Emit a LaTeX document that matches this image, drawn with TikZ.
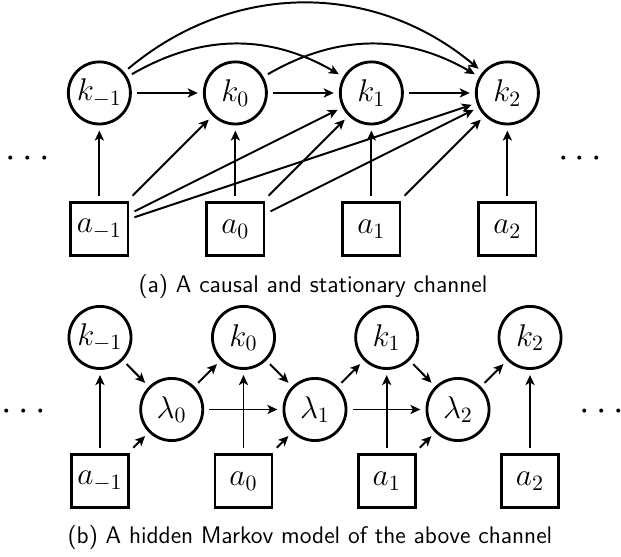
\documentclass[tikz,border=0pt]{standalone}
\usetikzlibrary{arrows.meta}
\begin{document}
\begin{tikzpicture}[
    >={Stealth[length=4.6pt,width=4.2pt,inset=1.2pt]},
    every node/.style={font=\Large},
    key/.style={circle,draw,line width=1.3pt,minimum size=1cm,inner sep=0pt,outer sep=3pt},
    act/.style={rectangle,draw,line width=1.3pt,minimum width=0.92cm,minimum height=0.86cm,inner sep=0pt,outer sep=3pt},
    dots/.style={font=\LARGE,inner sep=0pt},
    caption/.style={font=\sffamily\fontsize{11}{13.6}\selectfont,anchor=base}]
  \useasboundingbox (0,0) rectangle (10,8.969);
  % (a) causal and stationary channel
  \draw
    (1.60,7.472) node[key] (km1){$k_{-1}$}
    (3.79,7.472) node[key] (k0){$k_0$}
    (5.98,7.472) node[key] (k1){$k_1$}
    (8.17,7.472) node[key] (k2){$k_2$}
    (1.60,5.282) node[act] (am1){$a_{-1}$}
    (3.79,5.282) node[act] (a0){$a_0$}
    (5.98,5.282) node[act] (a1){$a_1$}
    (8.17,5.282) node[act] (a2){$a_2$}
    (0.446,6.40) node[dots] (ldots){$\cdots$}
    (9.34,6.40) node[dots] (rdots){$\cdots$}
    (5.04,4.251) node[caption] (capa){(a) A causal and stationary channel};
  \begin{scope}[->,line width=0.9pt]
    \draw (km1) to (k0);
    \draw (k0) to (k1);
    \draw (k1) to (k2);
    \draw (km1) to[bend left=30] (k1);
    \draw (km1) to[bend left=40] (k2);
    \draw (k0) to[bend left=30] (k2);
    \draw (am1) to (km1);
    \draw (am1) to (k0);
    \draw (am1) to (k1);
    \draw (am1) to (k2);
    \draw (a0) to (k0);
    \draw (a0) to (k1);
    \draw (a0) to (k2);
    \draw (a1) to (k1);
    \draw (a1) to (k2);
    \draw (a2) to (k2);
  \end{scope}
  % (b) hidden Markov model
  \draw
    (1.610,3.535) node[key] (hkm1){$k_{-1}$}
    (3.921,3.535) node[key] (hk0){$k_0$}
    (6.227,3.535) node[key] (hk1){$k_1$}
    (8.535,3.535) node[key] (hk2){$k_2$}
    (2.765,2.375) node[key] (l0){$\lambda_0$}
    (5.072,2.375) node[key] (l1){$\lambda_1$}
    (7.375,2.375) node[key] (l2){$\lambda_2$}
    (1.610,1.224) node[act] (ham1){$a_{-1}$}
    (3.921,1.224) node[act] (ha0){$a_0$}
    (6.227,1.224) node[act] (ha1){$a_1$}
    (8.535,1.224) node[act] (ha2){$a_2$}
    (0.386,2.33) node[dots] (hldots){$\cdots$}
    (9.69,2.33) node[dots] (hrdots){$\cdots$}
    (4.99,0.225) node[caption] (capb){(b) A hidden Markov model of the above channel};
  \begin{scope}[->,line width=0.9pt]
    \draw (ham1) to (hkm1);
    \draw (ha0) to (hk0);
    \draw (ha1) to (hk1);
    \draw (ha2) to (hk2);
    \draw (hkm1) to (l0);
    \draw (ham1) to (l0);
    \draw (l0) to (hk0);
    \draw (l0) to (l1);
    \draw (hk0) to (l1);
    \draw (ha0) to (l1);
    \draw (l1) to (hk1);
    \draw (l1) to (l2);
    \draw (hk1) to (l2);
    \draw (ha1) to (l2);
    \draw (l2) to (hk2);
  \end{scope}
\end{tikzpicture}
\end{document}
